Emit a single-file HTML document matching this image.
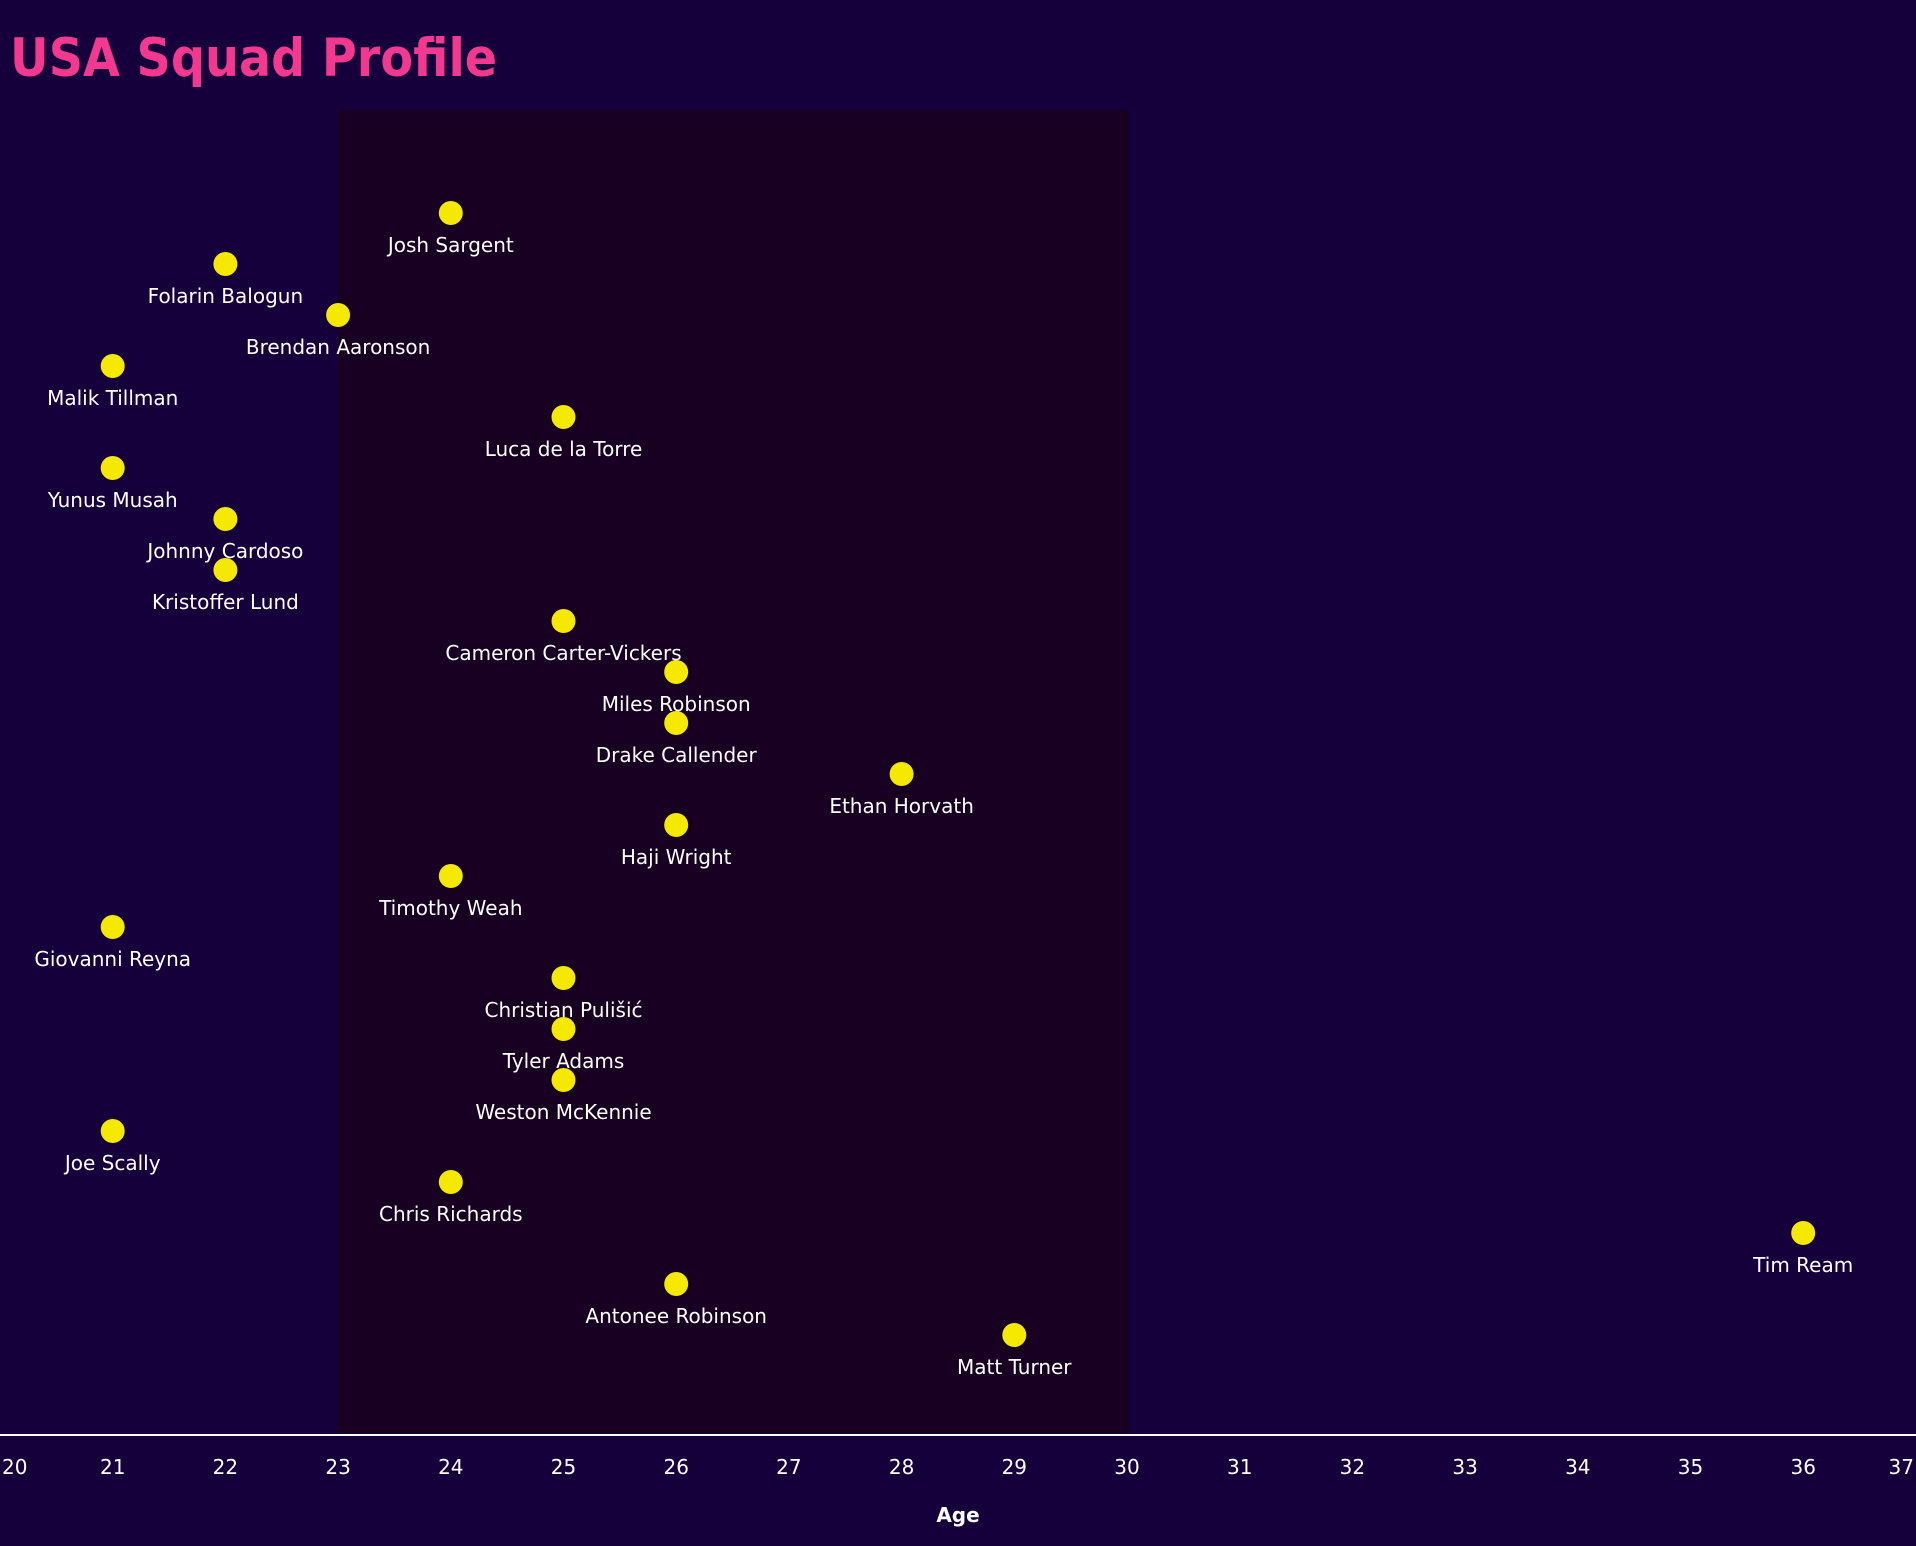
<!DOCTYPE html>
<html><head><meta charset="utf-8"><style>
html,body{margin:0;padding:0;background:#15003b;}
svg{display:block;}
text{font-family:"DejaVu Sans","Liberation Sans",sans-serif;}
</style></head><body>
<svg width="1916" height="1546" viewBox="0 0 1916 1546" xmlns="http://www.w3.org/2000/svg">
<rect width="1916" height="1546" fill="#15003b"/>
<text x="10" y="76" font-size="53" font-weight="bold" fill="#f2388f" style="font-family:'DejaVu Sans Condensed','DejaVu Sans',sans-serif">USA Squad Profile</text>
<rect x="338" y="110" width="791" height="1324" fill="#170021"/>
<line x1="0" y1="1435" x2="1916" y2="1435" stroke="#ffffff" stroke-width="2"/>
<g font-size="20" fill="#ffffff" text-anchor="middle">
<text x="2" y="1474" text-anchor="start">20</text><text x="112.7" y="1474">21</text><text x="225.4" y="1474">22</text><text x="338.1" y="1474">23</text><text x="450.8" y="1474">24</text><text x="563.5" y="1474">25</text><text x="676.2" y="1474">26</text><text x="788.9" y="1474">27</text><text x="901.6" y="1474">28</text><text x="1014.3" y="1474">29</text><text x="1127" y="1474">30</text><text x="1239.7" y="1474">31</text><text x="1352.4" y="1474">32</text><text x="1465.1" y="1474">33</text><text x="1577.8" y="1474">34</text><text x="1690.5" y="1474">35</text><text x="1803.2" y="1474">36</text><text x="1914" y="1474" text-anchor="end">37</text>
<text x="958" y="1522" font-weight="bold">Age</text>
</g>
<g fill="#f5e900">
<circle cx="450.8" cy="213" r="12"/><circle cx="225.4" cy="264" r="12"/><circle cx="338.1" cy="315" r="12"/><circle cx="112.7" cy="366" r="12"/><circle cx="563.5" cy="417" r="12"/><circle cx="112.7" cy="468" r="12"/><circle cx="225.4" cy="519" r="12"/><circle cx="225.4" cy="570" r="12"/><circle cx="563.5" cy="621" r="12"/><circle cx="676.2" cy="672" r="12"/><circle cx="676.2" cy="723" r="12"/><circle cx="901.6" cy="774" r="12"/><circle cx="676.2" cy="825" r="12"/><circle cx="450.8" cy="876" r="12"/><circle cx="112.7" cy="927" r="12"/><circle cx="563.5" cy="978" r="12"/><circle cx="563.5" cy="1029" r="12"/><circle cx="563.5" cy="1080" r="12"/><circle cx="112.7" cy="1131" r="12"/><circle cx="450.8" cy="1182" r="12"/><circle cx="1803.2" cy="1233" r="12"/><circle cx="676.2" cy="1284" r="12"/><circle cx="1014.3" cy="1335" r="12"/>
</g>
<g font-size="20" fill="#ffffff" text-anchor="middle">
<text x="450.8" y="252">Josh Sargent</text><text x="225.4" y="303">Folarin Balogun</text><text x="338.1" y="354">Brendan Aaronson</text><text x="112.7" y="405">Malik Tillman</text><text x="563.5" y="456">Luca de la Torre</text><text x="112.7" y="507">Yunus Musah</text><text x="225.4" y="558">Johnny Cardoso</text><text x="225.4" y="609">Kristoffer Lund</text><text x="563.5" y="660">Cameron Carter-Vickers</text><text x="676.2" y="711">Miles Robinson</text><text x="676.2" y="762">Drake Callender</text><text x="901.6" y="813">Ethan Horvath</text><text x="676.2" y="864">Haji Wright</text><text x="450.8" y="915">Timothy Weah</text><text x="112.7" y="966">Giovanni Reyna</text><text x="563.5" y="1017">Christian Pulišić</text><text x="563.5" y="1068">Tyler Adams</text><text x="563.5" y="1119">Weston McKennie</text><text x="112.7" y="1170">Joe Scally</text><text x="450.8" y="1221">Chris Richards</text><text x="1803.2" y="1272">Tim Ream</text><text x="676.2" y="1323">Antonee Robinson</text><text x="1014.3" y="1374">Matt Turner</text>
</g>
</svg>
</body></html>
